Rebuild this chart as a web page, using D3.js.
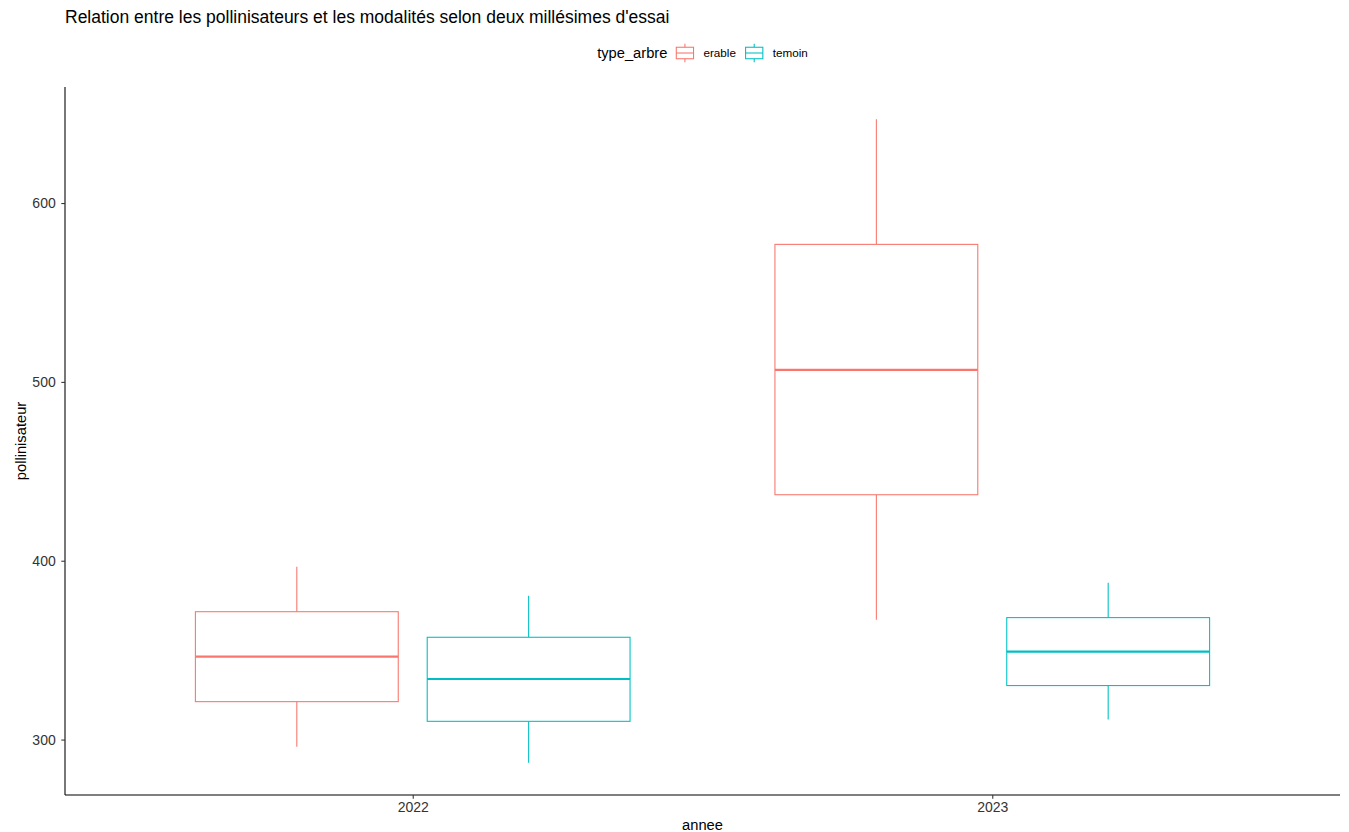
<!DOCTYPE html>
<html>
<head>
<meta charset="utf-8">
<script src="https://cdn.jsdelivr.net/npm/d3@7"></script>
<style>
  body { margin: 0; background: #fff; }
  svg { display: block; font-family: "Liberation Sans", Arial, sans-serif; }
</style>
</head>
<body>
<svg id="chart" width="1349" height="832"></svg>
<script>
// ---- data ----
const years = ["2022", "2023"];
const groups = ["erable", "temoin"];
const groupColors = ["#F8766D", "#00BFC4"];
// [lower whisker, Q1, median, Q3, upper whisker]
const erableStats = [
  [296, 321.2, 346.4, 371.5, 396.6],
  [367, 436.9, 506.7, 576.9, 646.9]
];
const temoinStats = [
  [287, 310.2, 333.9, 357.2, 380.4],
  [311.2, 330.2, 349.2, 368.2, 387.7]
];
const yTicks = [300, 400, 500, 600];
const titleText = "Relation entre les pollinisateurs et les modalités selon deux millésimes d'essai";
const xTitle = "annee";
const yTitle = "pollinisateur";
const legendTitle = "type_arbre";

// ---- build records ----
const records = [];
years.forEach((yr, i) => {
  [erableStats, temoinStats].forEach((s, g) => {
    const v = s[i];
    records.push({ year: yr, group: groups[g], lo: v[0], q1: v[1], med: v[2], q3: v[3], hi: v[4] });
  });
});

const svg = d3.select("#chart");
const pLeft = 65, pRight = 1340, pTop = 87, pBottom = 795;

const x = d3.scalePoint().domain(years).range([pLeft, pRight]).padding(0.6);
const step = x.step();
const color = d3.scaleOrdinal().domain(groups).range(groupColors);

const lo = d3.min(records, d => d.lo), hi = d3.max(records, d => d.hi);
const pad = (hi - lo) * 0.05;
const y = d3.scaleLinear().domain([lo - pad, hi + pad]).range([pBottom, pTop]);

const boxW = 0.35 * step;
const offset = { erable: -0.2 * step, temoin: 0.2 * step };

// boxes
const g = svg.append("g");
records.forEach(d => {
  const cx = x(d.year) + offset[d.group];
  const c = color(d.group);
  const bg = g.append("g").attr("stroke", c).attr("fill", "none");
  bg.append("line").attr("x1", cx).attr("x2", cx).attr("y1", y(d.hi)).attr("y2", y(d.q3)).attr("stroke-width", 1.07);
  bg.append("line").attr("x1", cx).attr("x2", cx).attr("y1", y(d.q1)).attr("y2", y(d.lo)).attr("stroke-width", 1.07);
  bg.append("rect").attr("x", cx - boxW / 2).attr("y", y(d.q3)).attr("width", boxW).attr("height", y(d.q1) - y(d.q3))
    .attr("fill", "#fff").attr("stroke-width", 1.07);
  bg.append("line").attr("x1", cx - boxW / 2).attr("x2", cx + boxW / 2).attr("y1", y(d.med)).attr("y2", y(d.med)).attr("stroke-width", 2.13);
});

// axes
const yAxis = svg.append("g").attr("transform", `translate(${pLeft},0)`)
  .call(d3.axisLeft(y).tickValues(yTicks).tickSize(3.7).tickPadding(5.6).tickFormat(d3.format("d")));
const xAxis = svg.append("g").attr("transform", `translate(0,${pBottom})`)
  .call(d3.axisBottom(x).tickSize(3.7).tickPadding(3.5));
[yAxis, xAxis].forEach(a => {
  a.select(".domain").attr("stroke", "#000").attr("stroke-width", 1.07);
  a.selectAll(".tick line").attr("stroke", "#333").attr("stroke-width", 1.07);
  a.selectAll(".tick text").attr("fill", "#333").style("font-size", "14px").style("font-family", "Liberation Sans, Arial, sans-serif");
});
yAxis.select(".domain").attr("d", `M0,${pBottom}V${pTop}`);
xAxis.select(".domain").attr("d", `M${pLeft},0H${pRight}`);

// titles
svg.append("text").attr("x", pLeft).attr("y", 23).text(titleText)
  .style("font-size", "17.5px").attr("fill", "#000");
svg.append("text").attr("x", (pLeft + pRight) / 2).attr("y", 830).attr("text-anchor", "middle")
  .text(xTitle).style("font-size", "14.7px");
svg.append("text").attr("transform", `translate(25.5,${(pTop + pBottom) / 2}) rotate(-90)`).attr("text-anchor", "middle")
  .text(yTitle).style("font-size", "14.7px");

// legend
const leg = svg.append("g");
const legY = 53;
const lt = leg.append("text").attr("x", 0).attr("y", legY + 5).text(legendTitle).style("font-size", "14.7px");
let cur = lt.node().getComputedTextLength() + 6;
groups.forEach(gr => {
  const k = 23, kx = cur, ky = legY - k / 2;
  const kg = leg.append("g").attr("stroke", color(gr)).attr("fill", "none").attr("stroke-width", 1.07);
  kg.append("line").attr("x1", kx + k / 2).attr("x2", kx + k / 2).attr("y1", ky + 0.1 * k).attr("y2", ky + 0.9 * k);
  kg.append("rect").attr("x", kx + 0.125 * k).attr("y", ky + 0.25 * k).attr("width", 0.75 * k).attr("height", 0.5 * k).attr("fill", "#fff");
  kg.append("line").attr("x1", kx + 0.125 * k).attr("x2", kx + 0.875 * k).attr("y1", ky + 0.5 * k).attr("y2", ky + 0.5 * k);
  const t = leg.append("text").attr("x", kx + k + 7).attr("y", legY + 4).text(gr).style("font-size", "11.7px");
  cur = kx + k + 7 + t.node().getComputedTextLength() + 6.8;
});
const legW = cur - 6.8;
leg.attr("transform", `translate(${(pLeft + pRight) / 2 - legW / 2},0)`);
</script>
</body>
</html>
